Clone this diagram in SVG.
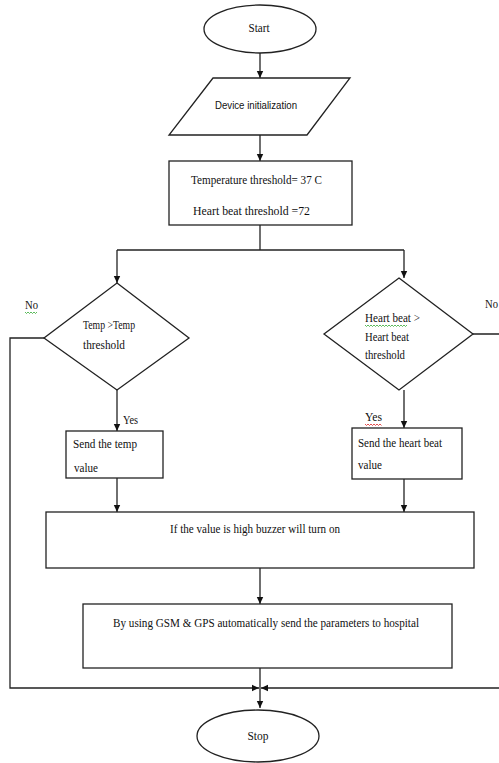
<svg xmlns="http://www.w3.org/2000/svg" width="499" height="763" viewBox="0 0 499 763">
<defs>
<marker id="arr" markerWidth="8" markerHeight="8" refX="7" refY="4" orient="auto" markerUnits="userSpaceOnUse">
<path d="M0,0.8 L7,4 L0,7.2 Z" fill="#111"/>
</marker>
<style>
.shape{fill:#fff;stroke:#222;stroke-width:1.3}
.line{fill:none;stroke:#222;stroke-width:1.3}
.t{font-family:"Liberation Serif","Times New Roman",serif;font-size:12px;fill:#111}
.s{font-family:"Liberation Sans",Arial,sans-serif;font-size:11px;fill:#111}
.sq{fill:none;stroke-width:0.8}
</style>
</defs>
<rect width="499" height="763" fill="#fff"/>

<g id="connectors">
<line class="line" x1="260" y1="53" x2="260" y2="78" marker-end="url(#arr)"/>
<line class="line" x1="260" y1="135" x2="260" y2="161" marker-end="url(#arr)"/>
<line class="line" x1="260" y1="225" x2="260" y2="250"/>
<polyline class="line" points="117,250 404,250"/>
<line class="line" x1="117" y1="250" x2="117" y2="283" marker-end="url(#arr)"/>
<line class="line" x1="404" y1="250" x2="404" y2="278" marker-end="url(#arr)"/>
<line class="line" x1="117" y1="390" x2="117" y2="431" marker-end="url(#arr)"/>
<line class="line" x1="404" y1="390" x2="404" y2="428" marker-end="url(#arr)"/>
<line class="line" x1="117" y1="478" x2="117" y2="512" marker-end="url(#arr)"/>
<line class="line" x1="404" y1="479" x2="404" y2="512" marker-end="url(#arr)"/>
<line class="line" x1="260" y1="568" x2="260" y2="604" marker-end="url(#arr)"/>
<line class="line" x1="260" y1="668" x2="260" y2="708" marker-end="url(#arr)"/>
<polyline class="line" points="44,338 10,338 10,688 259,688" marker-end="url(#arr)"/>
<polyline class="line" points="473,334 505,334 505,688 261,688" marker-end="url(#arr)"/>
<text class="t" x="25" y="309" textLength="13" lengthAdjust="spacingAndGlyphs">No</text>
<path class="sq" stroke="#3a3" d="M25,312 l1.5,1.5 l1.5,-1.5 l1.5,1.5 l1.5,-1.5 l1.5,1.5 l1.5,-1.5 l1.5,1.5 l1.5,-1.5"/>
<text class="t" x="485" y="308" textLength="13" lengthAdjust="spacingAndGlyphs">No</text>
<text class="t" x="123" y="424" textLength="15" lengthAdjust="spacingAndGlyphs">Yes</text>
<text class="t" x="365" y="421" textLength="17" lengthAdjust="spacingAndGlyphs">Yes</text>
<path class="sq" stroke="#d22" d="M365,424 l1.5,1.5 l1.5,-1.5 l1.5,1.5 l1.5,-1.5 l1.5,1.5 l1.5,-1.5 l1.5,1.5 l1.5,-1.5 l1.5,1.5 l1.5,-1.5 l1.5,1.5"/>
</g>

<g id="start">
<ellipse class="shape" cx="260" cy="29" rx="56" ry="24"/>
<text class="t" x="259" y="32" text-anchor="middle" textLength="21" lengthAdjust="spacingAndGlyphs">Start</text>
</g>

<g id="init">
<polygon class="shape" points="213,78 350,78 307,135 169,135"/>
<text class="s" x="215" y="109" textLength="82" lengthAdjust="spacingAndGlyphs">Device initialization</text>
</g>

<g id="thresholds">
<rect class="shape" x="169" y="161" width="183" height="64"/>
<text class="t" x="191" y="184" textLength="131" lengthAdjust="spacingAndGlyphs">Temperature  threshold= 37 C</text>
<text class="t" x="193" y="215" textLength="117" lengthAdjust="spacingAndGlyphs">Heart beat threshold    =72</text>
</g>

<g id="temp-decision">
<polygon class="shape" points="117,283 189,338 117,390 44,338"/>
<text class="t" x="83" y="329" textLength="52" lengthAdjust="spacingAndGlyphs">Temp &gt;Temp</text>
<text class="t" x="83" y="349" textLength="42" lengthAdjust="spacingAndGlyphs">threshold</text>
</g>

<g id="heart-decision">
<polygon class="shape" points="399,278 473,334 399,390 324,334"/>
<text class="t" x="365" y="322" textLength="55" lengthAdjust="spacingAndGlyphs">Heart  beat &gt;</text>
<path class="sq" stroke="#3a3" d="M365,325 l1.5,1.5 l1.5,-1.5 l1.5,1.5 l1.5,-1.5 l1.5,1.5 l1.5,-1.5 l1.5,1.5 l1.5,-1.5 l1.5,1.5 l1.5,-1.5 l1.5,1.5 l1.5,-1.5 l1.5,1.5 l1.5,-1.5 l1.5,1.5 l1.5,-1.5 l1.5,1.5 l1.5,-1.5 l1.5,1.5 l1.5,-1.5 l1.5,1.5 l1.5,-1.5 l1.5,1.5 l1.5,-1.5 l1.5,1.5 l1.5,-1.5 l1.5,1.5 l1.5,-1.5"/>
<text class="t" x="365" y="341" textLength="44" lengthAdjust="spacingAndGlyphs">Heart  beat</text>
<text class="t" x="365" y="359" textLength="40" lengthAdjust="spacingAndGlyphs">threshold</text>
</g>

<g id="send-temp">
<rect class="shape" x="66" y="431" width="97" height="47"/>
<text class="t" x="73" y="448" textLength="64" lengthAdjust="spacingAndGlyphs">Send the temp</text>
<text class="t" x="74" y="472" font-size="9" textLength="24" lengthAdjust="spacingAndGlyphs">value</text>
</g>

<g id="send-heart">
<rect class="shape" x="352" y="428" width="110" height="51"/>
<text class="t" x="358" y="447" textLength="84" lengthAdjust="spacingAndGlyphs">Send the heart  beat</text>
<text class="t" x="358" y="469" textLength="24" lengthAdjust="spacingAndGlyphs">value</text>
</g>

<g id="buzzer">
<rect class="shape" x="46" y="512" width="428" height="56"/>
<text class="t" x="170" y="533" textLength="170" lengthAdjust="spacingAndGlyphs">If the value is high buzzer  will turn on</text>
</g>

<g id="gsm">
<rect class="shape" x="83" y="604" width="369" height="64"/>
<text class="t" x="113" y="627" textLength="306" lengthAdjust="spacingAndGlyphs">By using GSM &amp; GPS automatically  send  the parameters  to hospital</text>
</g>

<g id="stop">
<ellipse class="shape" cx="258" cy="736" rx="61" ry="26"/>
<text class="t" x="258" y="740" text-anchor="middle" textLength="21" lengthAdjust="spacingAndGlyphs">Stop</text>
</g>
</svg>
